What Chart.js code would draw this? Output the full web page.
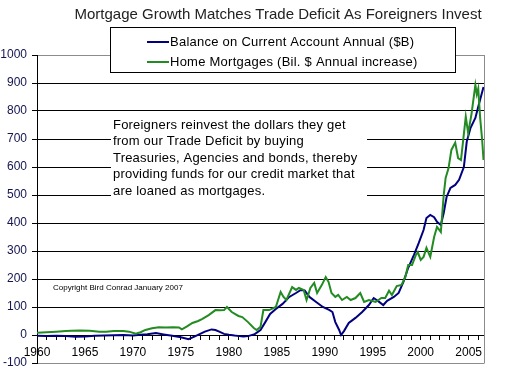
<!DOCTYPE html>
<html><head><meta charset="utf-8">
<script src="https://cdn.jsdelivr.net/npm/chart.js@4/dist/chart.umd.min.js"></script>
<style>html,body{margin:0;padding:0;background:#fff;}</style>
</head><body>
<canvas id="c" width="506" height="385"></canvas>
<script>
// ---------- DATA ----------
const titleText = 'Mortgage Growth Matches Trade Deficit As Foreigners Invest';
const seriesNames = ['Balance on Current Account Annual ($B)', 'Home Mortgages (Bil. $ Annual increase)'];

const caYears = [1960,1961,1962,1963,1964,1965,1966,1967,1968,1969,1970,1970.8,1971.5,1972.4,1973.2,1974.1,1975.0,1975.8,1976.4,1976.9,1977.5,1978.2,1978.6,1979.0,1979.5,1980.0,1980.6,1981.1,1981.5,1982.0,1982.7,1983.3,1983.8,1984.3,1984.9,1985.6,1986.3,1987.0,1987.5,1987.9,1988.4,1989.1,1989.8,1990.5,1990.8,1991.1,1991.5,1991.7,1992.0,1992.5,1993.2,1993.9,1994.6,1995.1,1995.6,1996.1,1996.5,1997.2,1997.7,1998.2,1998.7,1999.3,1999.8,2000.3,2000.6,2001.0,2001.4,2001.7,2002.1,2002.4,2002.7,2003.1,2003.6,2004.0,2004.5,2004.8,2005.2,2005.7,2006.0,2006.55];
const caValues = [-3,-4,-3,-4,-6,-5,-3,-2,-1,0,-2,1,3,7,2,-3,-8,-15,-6,2,12,20,18,12,4,1,-2,-4,-5,-4,3,18,46,75,93,111,136,150,161,159,136,118,100,89,82,46,18,0,14,43,61,82,107,132,120,107,122,136,150,190,240,286,329,375,418,429,421,404,393,436,493,525,536,554,600,690,740,775,815,886];

const mortYears = [1960,1961,1962,1963,1963.6,1964.5,1965.5,1966.5,1967.2,1968,1969,1969.6,1970.3,1970.8,1971.3,1972,1972.7,1973.4,1974.2,1974.8,1975.1,1975.6,1976.2,1976.8,1977.2,1977.9,1978.6,1979.1,1979.5,1979.8,1980.3,1981,1981.4,1982,1982.6,1982.9,1983.3,1983.6,1984.2,1984.9,1985.4,1985.7,1986,1986.6,1987,1987.3,1987.8,1988.1,1988.5,1988.9,1989.2,1989.7,1990.1,1990.4,1990.7,1991.1,1991.4,1991.8,1992.3,1992.7,1993.2,1993.7,1994.1,1994.6,1995.3,1995.9,1996.3,1996.7,1997,1997.5,1998,1998.4,1998.7,1999.1,1999.5,1999.7,2000,2000.3,2000.6,2001,2001.4,2001.7,2002.1,2002.2,2002.4,2002.6,2002.9,2003.2,2003.6,2003.9,2004.2,2004.4,2004.7,2004.95,2005.3,2005.7,2005.85,2006,2006.2,2006.4,2006.55];
const mortValues = [8,10,12,14,15,16,15,12,12,14,14,12,5,10,18,24,28,27,28,27,20,30,43,50,57,71,89,88,89,100,82,68,64,46,25,18,29,89,89,100,154,136,125,171,161,168,161,125,168,186,150,179,207,189,150,136,143,125,136,125,132,150,118,125,118,132,132,158,143,175,179,207,250,250,286,296,268,279,311,279,350,386,368,411,500,561,595,661,687,632,625,686,780,721,790,893,860,880,775,700,625];

const yTickValues = [-100,0,100,200,300,400,500,600,700,800,900,1000];
const xLabelYears = [1960,1965,1970,1975,1980,1985,1990,1995,2000,2005];

const noteLines = [
  'Foreigners reinvest the dollars they get',
  'from our Trade Deficit by buying',
  'Treasuries, Agencies and bonds, thereby',
  'providing funds for our credit market that',
  'are loaned as mortgages.'
];
const copyrightText = 'Copyright Bird Conrad January 2007';

// ---------- STYLE ----------
const FONT = '"Liberation Sans", Arial, sans-serif';
const NAVY = '#000080';
const GREEN = '#228b22';
const FRAME = '#8c8c8c';

function setLS(ctx, v){ if ('letterSpacing' in ctx) ctx.letterSpacing = v; }

const decor = {
  id: 'decor',
  beforeDatasetsDraw(chart) {
    const ctx = chart.ctx, a = chart.chartArea;
    ctx.save();
    // right frame line
    ctx.strokeStyle = FRAME; ctx.lineWidth = 1;
    ctx.beginPath(); ctx.moveTo(Math.round(a.right) + 0.5, a.top); ctx.lineTo(Math.round(a.right) + 0.5, a.bottom + 0.5); ctx.stroke();
    // note box
    ctx.fillStyle = '#fff';
    ctx.fillRect(111, 115, 256, 88);
    ctx.fillStyle = '#000';
    ctx.font = '13px ' + FONT;
    setLS(ctx, '0.2px');
    ctx.textAlign = 'left'; ctx.textBaseline = 'middle';
    noteLines.forEach((t, i) => ctx.fillText(t, 113, 125 + i * 16.5));
    // copyright
    ctx.font = '8px ' + FONT;
    setLS(ctx, '0px');
    ctx.fillText(copyrightText, 53, 288);
    ctx.restore();
  },
  afterDraw(chart) {
    const ctx = chart.ctx;
    ctx.save();
    // title
    ctx.fillStyle = '#222';
    ctx.font = '15px ' + FONT;
    ctx.textAlign = 'center'; ctx.textBaseline = 'middle';
    ctx.fillText(titleText, 278, 15);
    // legend box
    ctx.fillStyle = '#fff';
    ctx.fillRect(110, 27, 345, 45);
    ctx.strokeStyle = '#000'; ctx.lineWidth = 1;
    ctx.strokeRect(110.5, 27.5, 345, 45);
    ctx.font = '13px ' + FONT;
    setLS(ctx, '0.25px');
    ctx.textAlign = 'left';
    chart.data.datasets.forEach((ds, i) => {
      const y = 42 + i * 20;
      ctx.strokeStyle = ds.borderColor; ctx.lineWidth = 2;
      ctx.beginPath(); ctx.moveTo(147, y); ctx.lineTo(169, y); ctx.stroke();
      ctx.fillStyle = '#000';
      ctx.fillText(ds.label, 170, y);
    });
    ctx.restore();
  }
};

new Chart(document.getElementById('c'), {
  type: 'line',
  data: {
    datasets: [
      { label: seriesNames[0], data: caYears.map((x, i) => ({x, y: caValues[i]})), borderColor: NAVY, borderWidth: 2, pointRadius: 0, fill: false, tension: 0, order: 1 },
      { label: seriesNames[1], data: mortYears.map((x, i) => ({x, y: mortValues[i]})), borderColor: GREEN, borderWidth: 2, pointRadius: 0, fill: false, tension: 0, order: 0 }
    ]
  },
  options: {
    responsive: false,
    animation: false,
    devicePixelRatio: 1,
    layout: { padding: { left: 0, top: 55, right: 22, bottom: 22 } },
    plugins: { legend: { display: false }, title: { display: false }, tooltip: { enabled: false } },
    scales: {
      x: {
        type: 'linear',
        position: { y: 0 },
        min: 1960, max: 2006.6,
        ticks: {
          stepSize: 1, autoSkip: false, maxRotation: 0, minRotation: 0, includeBounds: false,
          color: '#000', font: { family: FONT, size: 12 }, padding: 6,
          callback: v => xLabelYears.includes(Math.round(v)) && Math.abs(v - Math.round(v)) < 1e-6 ? String(Math.round(v)) : ''
        },
        grid: { drawOnChartArea: false, drawTicks: true, tickLength: 4, color: '#000' },
        border: { display: true, color: '#000', width: 1 }
      },
      y: {
        type: 'linear',
        position: 'left',
        min: yTickValues[0], max: yTickValues[yTickValues.length - 1],
        afterBuildTicks: s => { s.ticks = yTickValues.map(v => ({ value: v })); },
        afterFit: s => { s.width = 37; },
        ticks: { color: '#141450', font: { family: FONT, size: 12 }, padding: 5, callback: v => String(v) },
        grid: {
          color: c => (c.tick && (c.tick.value === 1000 || c.tick.value === -100)) ? FRAME : '#000',
          tickColor: '#000', tickLength: 5, lineWidth: 1
        },
        border: { display: true, color: '#000', width: 1 }
      }
    }
  },
  plugins: [decor]
});
</script>
</body></html>
